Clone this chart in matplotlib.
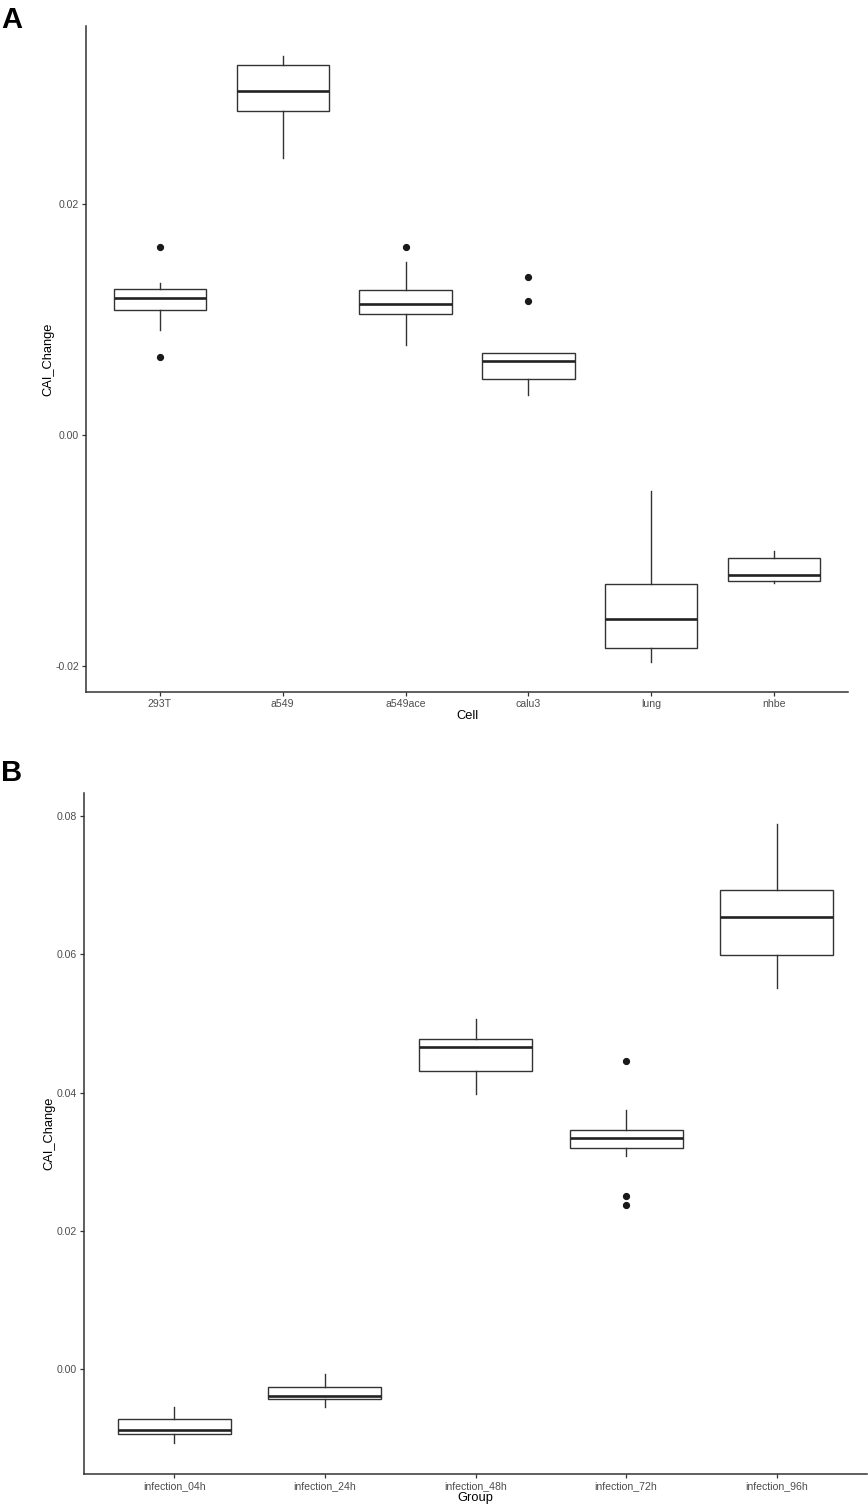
import matplotlib
matplotlib.use("Agg")
import matplotlib.pyplot as plt

plt.rcParams['font.family'] = ['Liberation Sans', 'DejaVu Sans']
plt.rcParams['axes.unicode_minus'] = False

# ---------------- Panel A data (box statistics) ----------------
cells = ["293T", "a549", "a549ace", "calu3", "lung", "nhbe"]
cell_whislo = [0.00908, 0.02393, 0.00780, 0.00347, -0.01964, -0.01283]
cell_q1     = [0.01081, 0.02806, 0.01044, 0.00483, -0.01843, -0.01268]
cell_med    = [0.01182, 0.02977, 0.01130, 0.00642, -0.01598, -0.01210]
cell_q3     = [0.01266, 0.03205, 0.01257, 0.00711, -0.01292, -0.01066]
cell_whishi = [0.01318, 0.03277, 0.01497, 0.00711, -0.00488, -0.01002]
cell_fliers = [[0.01627, 0.00674], [], [0.01630], [0.01367, 0.01159], [], []]
cell_yticks = [-0.02, 0.00, 0.02]

# ---------------- Panel B data ----------------
groups = ["infection_04h", "infection_24h", "infection_48h", "infection_72h", "infection_96h"]
grp_whislo = [-0.01071, -0.00556, 0.03974, 0.03077, 0.05508]
grp_q1     = [-0.00946, -0.00434, 0.04307, 0.03193, 0.05996]
grp_med    = [-0.00878, -0.00386, 0.04654, 0.03347, 0.06541]
grp_q3     = [-0.00729, -0.00266, 0.04770, 0.03453, 0.06932]
grp_whishi = [-0.00556, -0.00068, 0.05065, 0.03748, 0.07887]
grp_fliers = [[], [], [], [0.04452, 0.02498, 0.02378], []]
grp_yticks = [0.00, 0.02, 0.04, 0.06, 0.08]

W, H = 868, 1508
fig = plt.figure(figsize=(W / 100, H / 100), dpi=100)

def make_axes(left, right, top, bottom):
    return fig.add_axes([left / W, 1 - bottom / H, (right - left) / W, (bottom - top) / H])

DARK = "#333333"
TXT = "#4D4D4D"

def draw_panel(ax, labels, wlo, q1, med, q3, whi, fliers, yticks, xlabel):
    stats = []
    for i, lab in enumerate(labels):
        stats.append(dict(label=lab, whislo=wlo[i], q1=q1[i], med=med[i],
                          q3=q3[i], whishi=whi[i], fliers=fliers[i]))
    n = len(labels)
    ax.bxp(stats, positions=list(range(1, n + 1)), widths=0.75,
           showcaps=False, patch_artist=True,
           boxprops=dict(facecolor="white", edgecolor=DARK, linewidth=1.0),
           whiskerprops=dict(color=DARK, linewidth=1.0),
           medianprops=dict(color="#222222", linewidth=1.9),
           flierprops=dict(marker="o", markerfacecolor="#1a1a1a",
                           markeredgecolor="#1a1a1a", markersize=4.2, linestyle="none"))
    # ggplot-style expansion
    ax.set_xlim(0.4, n + 0.6)
    lo = min(wlo + [v for f in fliers for v in f])
    hi = max(whi + [v for f in fliers for v in f])
    pad = (hi - lo) * 0.05
    ax.set_ylim(lo - pad, hi + pad)
    ax.set_xticks(list(range(1, n + 1)))
    ax.set_xticklabels(labels, fontsize=7.6, color=TXT)
    ax.set_yticks(yticks)
    ax.set_yticklabels([f"{t:.2f}" for t in yticks], fontsize=7.6, color=TXT)
    for s in ["top", "right"]:
        ax.spines[s].set_visible(False)
    for s in ["left", "bottom"]:
        ax.spines[s].set_color(DARK)
        ax.spines[s].set_linewidth(1.1)
    ax.tick_params(axis="both", direction="out", length=3, width=0.9, color=DARK, pad=2)
    ax.set_xlabel(xlabel, fontsize=9.3, color="black", labelpad=1)
    ax.set_ylabel("CAI_Change", fontsize=9.3, color="black", labelpad=1)

axA = make_axes(86, 848, 26, 692)
draw_panel(axA, cells, cell_whislo, cell_q1, cell_med, cell_q3, cell_whishi,
           cell_fliers, cell_yticks, "Cell")

axB = make_axes(84, 867, 793, 1474)
draw_panel(axB, groups, grp_whislo, grp_q1, grp_med, grp_q3, grp_whishi,
           grp_fliers, grp_yticks, "Group")

fig.text(1 / W, 1 - 20 / H, "A", fontsize=21, fontweight="bold", va="center", ha="left")
fig.text(1 / W, 1 - 773 / H, "B", fontsize=21, fontweight="bold", va="center", ha="left")

fig.savefig("out.png", dpi=100, facecolor="white")
